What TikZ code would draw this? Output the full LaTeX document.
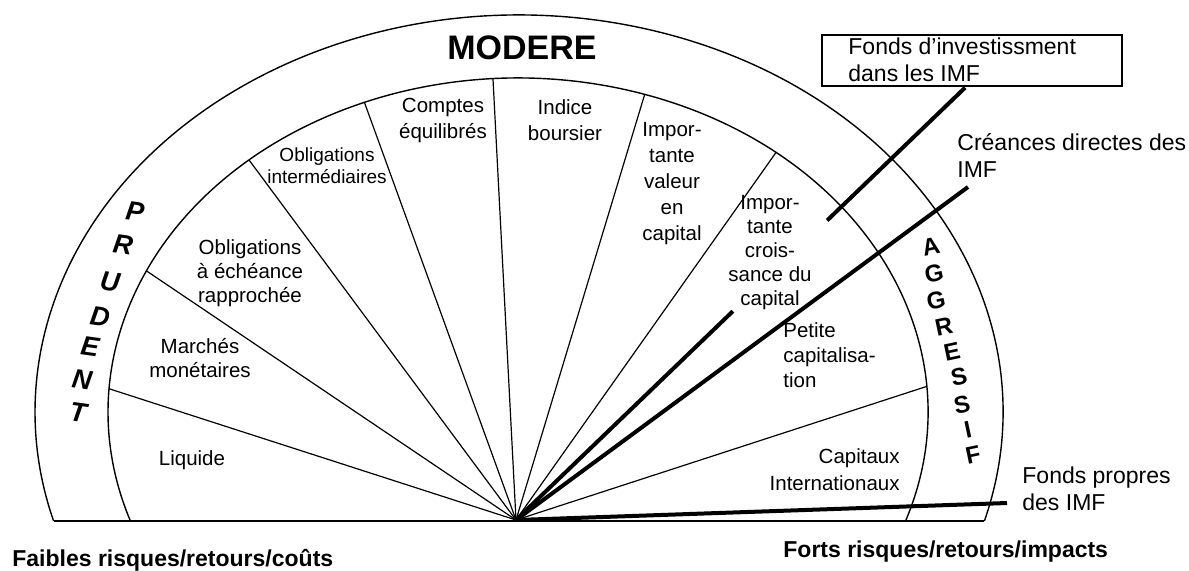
\documentclass[tikz,border=0pt]{standalone}
\usepackage{fontspec}
\setmainfont{Liberation Sans}
\usetikzlibrary{calc}

\begin{document}
\begin{tikzpicture}[
          x=0.5pt, y=0.5pt,
          rim/.style={line width=0.7pt},
          spoke/.style={line width=0.6pt},
          fund/.style={line width=2pt},
          sector/.style={font=\fontsize{10.25}{13}\selectfont, align=center, inner sep=0pt},
          tight/.style={font=\fontsize{10.25}{12}\selectfont},
          callout/.style={font=\fontsize{11.5}{13.5}\selectfont, align=left, inner sep=0pt},
          risk/.style={font=\bfseries\fontsize{11.5}{13}\selectfont, inner sep=0pt},
          prudent/.style={font=\bfseries\itshape\fontsize{13.5}{13.5}\selectfont, inner sep=0pt, rotate=-8},
          aggressif/.style={font=\bfseries\fontsize{12}{12}\selectfont, inner sep=0pt, rotate=12}
      ]
        \useasboundingbox (0,0) rectangle (1189,-570);
        \coordinate (hub) at (516,-520);
        \coordinate (outerC) at (519,-412);
        \coordinate (innerC) at (518,-412);
        \coordinate (baseL) at ($(outerC)+(195.94:484 and 397)$);
        \coordinate (baseR) at ($(outerC)+(-15.94:484 and 397)$);
        \draw[rim] (baseR) arc[start angle=-15.94, end angle=195.94, x radius=484, y radius=397];
        \draw[rim] ($(innerC)+(-19.05:410 and 334)$) arc[start angle=-19.05, end angle=199.05, x radius=410, y radius=334];
        \draw[rim] (baseL) -- (baseR);
        \foreach \ang in {176,155,131,112,93.5,72,51,4.4}
          \draw[spoke] (hub) -- ($(innerC)+(\ang:410 and 334)$);

        \node[sector] (liquide) at (192,-460) {Liquide};
        \node[sector, tight] (marches) at (200,-358) {Marchés\\monétaires};
        \node[sector, tight] (oblEch) at (250,-273) {Obligations\\à échéance\\rapprochée};
        \node[sector, font=\fontsize{9.5}{11}\selectfont] (oblInt) at (327,-166) {Obligations\\intermédiaires};
        \node[sector] (comptes) at (443,-120) {Comptes\\équilibrés};
        \node[sector] (indice) at (565,-120) {Indice\\boursier};
        \node[sector] (valeur) at (672,-184) {Impor-\\tante\\valeur\\en\\capital};
        \node[sector, tight] (croissance) at (770,-253) {Impor-\\tante\\crois-\\sance du\\capital};
        \node[sector, anchor=west, align=left, font=\fontsize{10.25}{12.5}\selectfont] (petite) at (783,-355) {Petite\\capitalisa-\\tion};
        \node[sector, anchor=east, align=right, font=\fontsize{10.25}{13.5}\selectfont] (capitaux) at (900,-470) {Capitaux\\Internationaux};

        \node[font=\bfseries\fontsize{17}{17}\selectfont, inner sep=0pt] (modere) at (522,-48) {MODERE};
        \foreach \ch/\px/\py [count=\i] in {P/135/212, R/123/245, U/110/282, D/100/317, E/90/347, N/82/380, T/78/412}
          \node[prudent] (pru\i) at (\px,-\py) {\ch};
        \foreach \ch/\px/\py [count=\i] in {A/931/247, G/934/273, G/936/300, R/944/327, E/952/352, S/959/377, S/962/405, I/968/430, F/973/455}
          \node[aggressif] (agg\i) at (\px,-\py) {\ch};

        \node[draw, rim, minimum width=150pt, minimum height=25.5pt, inner sep=0pt] (fibox) at (972,-60.5) {};
        \node[callout, anchor=west] (fitext) at (848,-60) {Fonds d’investissment\\dans les IMF};
        \node[callout, anchor=west] (creances) at (957,-156) {Créances directes des\\IMF};
        \node[callout, anchor=west] (propres) at (1022,-489) {Fonds propres\\des IMF};
        \coordinate (fiEnd) at ($(fibox.south)+(-7,-1)$);
        \coordinate (cdEnd) at (968,-187);
        \coordinate (fpEnd) at (1007,-503);
        \draw[fund] (hub) -- ($(hub)!0.483!(fiEnd)$);
        \draw[fund] ($(hub)!0.693!(fiEnd)$) -- (fiEnd);
        \draw[fund] (hub) -- (cdEnd);
        \draw[fund] (hub) -- (fpEnd);

        \node[risk, anchor=west] (faibles) at (12,-560) {Faibles risques/retours/coûts};
        \node[risk, anchor=west] (forts) at (783,-552) {Forts risques/retours/impacts};
      \end{tikzpicture}
\end{document}
